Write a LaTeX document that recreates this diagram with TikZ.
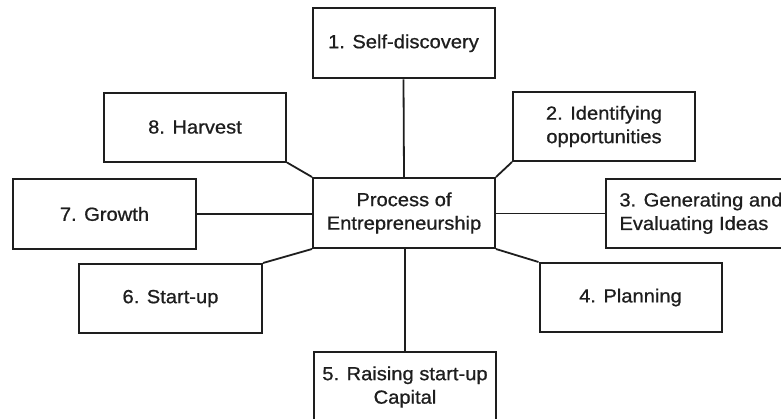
\documentclass[tikz,border=0pt]{standalone}
\usepackage{fontspec}
\setmainfont[FakeStretch=1.06,FakeBold=0.8]{Liberation Sans}
\definecolor{ink}{HTML}{1E1E1E}
\begin{document}
\begin{tikzpicture}[x=1pt,y=-1pt,
  box/.style={draw=ink, line width=2pt, fill=white, minimum width=182pt, minimum height=69pt,
    inner sep=0pt, align=center, text=ink, font=\fontsize{19}{23.5}\selectfont},
  link/.style={draw=ink, line width=1.8pt}]
\useasboundingbox (0,0) rectangle (781,418);
\clip (0,0) rectangle (781,418);
\node[box, minimum height=70pt] (c) at (404,213) {Process of\\Entrepreneurship};
\node[box, minimum height=70pt] (b1) at (403.5,43.3) {1. Self-discovery};
\node[box] (b2) at (604,126.5) {2. Identifying\\opportunities};
\node[box, minimum width=190pt, anchor=west] (b3) at (605,213.5) {\begin{tabular}{@{}l@{}}3. Generating and\\Evaluating Ideas\end{tabular}};
\node[box] (b4) at (630.5,297.5) {4. Planning};
\node[box, minimum height=70pt] (b5) at (405,387) {5. Raising start-up\\Capital};
\node[box, minimum width=183pt] (b6) at (170.5,298.5) {6. Start-up};
\node[box, minimum width=183pt, minimum height=70pt] (b7) at (104.5,214) {7. Growth};
\node[box] (b8) at (195,127) {8. Harvest};
\draw[link] (b1.south) -- (c.north);
\draw[link] (b5.north) -- (b5.north |- c.south);
\draw[link] (b7.east) -- (b7.east -| c.west);
\draw[link] (b3.west) -- (b3.west -| c.east);
\draw[link] (b8.south east) -- (c.north west);
\draw[link] (b2.south west) -- (c.north east);
\draw[link] (b6.north east) -- (c.south west);
\draw[link] (b4.north west) -- (c.south east);
\end{tikzpicture}
\end{document}
